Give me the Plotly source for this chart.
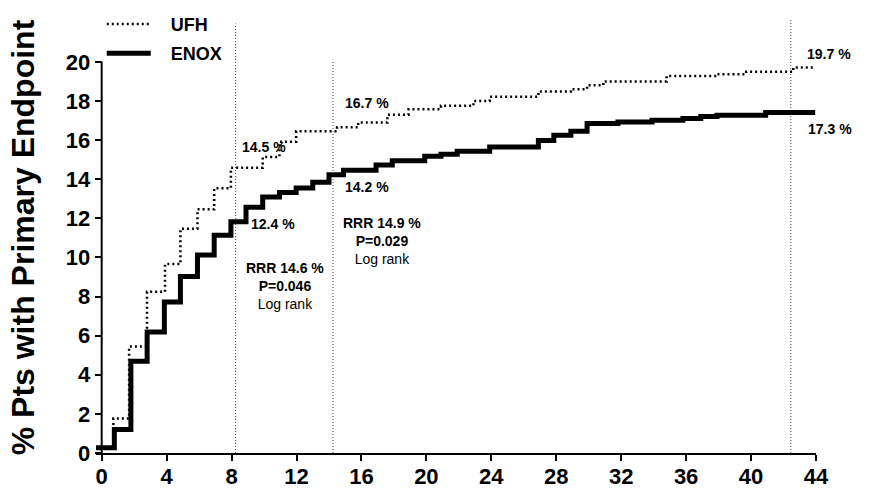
import plotly.graph_objects as go

# ---- data (days, cumulative % with primary endpoint) ----
ufh_days = [-0.35, 0.72, 1.69, 2.79, 3.9, 4.85, 5.9, 6.93, 7.96, 9.92, 10.95, 11.98,
            14.5, 15.8, 17.6, 18.9, 20.9, 22.9, 23.9, 26.9, 28.9, 29.9, 30.9, 34.8,
            37.9, 39.7, 42.6, 43.95]
ufh_pct = [0.27, 1.76, 5.44, 8.24, 9.66, 11.47, 12.46, 13.54, 14.58, 15.14, 15.92, 16.45,
           16.65, 16.9, 17.3, 17.58, 17.75, 18.0, 18.21, 18.48, 18.6, 18.8, 19.0, 19.28,
           19.37, 19.49, 19.71, 19.71]

enox_days = [-0.35, 0.78, 1.8, 2.8, 3.86, 4.85, 5.9, 6.93, 7.96, 8.89, 9.92, 10.95, 11.98,
             13.0, 14.0, 14.9, 16.9, 17.9, 19.9, 20.9, 21.9, 23.9, 26.9, 27.85, 28.9,
             29.9, 31.8, 33.9, 35.8, 36.9, 37.9, 40.9, 43.95]
enox_pct = [0.27, 1.2, 4.69, 6.19, 7.72, 9.03, 10.12, 11.14, 11.83, 12.57, 13.09, 13.32,
            13.55, 13.85, 14.23, 14.46, 14.72, 14.94, 15.17, 15.28, 15.43, 15.65, 15.98,
            16.25, 16.45, 16.85, 16.93, 17.02, 17.1, 17.2, 17.27, 17.41, 17.41]

x_ticks = [0, 4, 8, 12, 16, 20, 24, 28, 32, 36, 40, 44]
y_ticks = [0, 2, 4, 6, 8, 10, 12, 14, 16, 18, 20]

# reference day lines and their top ends
ref_days = [8.25, 14.25, 42.45]
ref_tops = [21.96, 20.1, 22.2]

# value labels: (day, pct, text)
value_labels = [
    (8.5, 15.63, "14.5 %"),
    (9.1, 11.73, "12.4 %"),
    (14.85, 17.88, "16.7 %"),
    (14.85, 13.59, "14.2 %"),
    (43.35, 20.41, "19.7 %"),
    (43.4, 16.57, "17.3 %"),
]
# statistics blocks: (day, pct, rrr, p)
stat_blocks = [
    (11.3, 8.56, "RRR 14.6 %", "P=0.046"),
    (17.26, 10.82, "RRR 14.9 %", "P=0.029"),
    (45.03, 13.97, "RRR 12.3 %", "P=0.044"),
]

FONT = "Liberation Sans, Arial, Helvetica, sans-serif"
X_MIN, X_MAX = -0.35, 44
Y_MIN, Y_MAX = 0, 22.6
NB = "\u00a0\u00a0\u00a0"

fig = go.Figure()
fig.add_trace(go.Scatter(
    x=ufh_days, y=ufh_pct, mode="lines", name=NB + "UFH", line_shape="hv",
    line=dict(color="black", width=2.5, dash="2px,3px"), legendgroup="a"))
fig.add_trace(go.Scatter(
    x=enox_days, y=enox_pct, mode="lines", name=NB + "ENOX", line_shape="hv",
    line=dict(color="black", width=5), legendgroup="b"))

for d, top in zip(ref_days, ref_tops):
    fig.add_shape(type="line", xref="x", yref="y", x0=d, x1=d, y0=0, y1=top,
                  line=dict(color="#444", width=1, dash="1px,2px"), layer="below")

# y-axis line (stops at 20)
fig.add_shape(type="line", xref="x", yref="y", x0=0, x1=0, y0=0, y1=20,
              line=dict(color="black", width=2))

for d, p, t in value_labels:
    fig.add_annotation(x=d, y=p, text="<b>" + t + "</b>", showarrow=False,
                       xanchor="left", yanchor="middle",
                       font=dict(family=FONT, size=14, color="black"))
for d, p, r, pv in stat_blocks:
    fig.add_annotation(x=d, y=p, text="<b>" + r + "</b><br><b>" + pv + "</b><br>Log rank",
                       showarrow=False, xanchor="center", yanchor="middle", align="center",
                       font=dict(family=FONT, size=14, color="black"))

fig.add_annotation(xref="paper", yref="paper", x=-0.102, y=0.487,
                   text="<b>% Pts with Primary Endpoint</b>", textangle=-90,
                   showarrow=False, xanchor="center", yanchor="middle",
                   font=dict(family=FONT, size=32, color="black"))

ypos = (0 - X_MIN) / (X_MAX - X_MIN)

fig.update_layout(
    width=873, height=488,
    margin=dict(l=96, r=57, t=11, b=35, autoexpand=False),
    paper_bgcolor="white", plot_bgcolor="white",
    showlegend=True,
    legend=dict(x=0.008, y=1.012, xanchor="left", yanchor="top",
                font=dict(family=FONT, size=18, color="black", weight="bold"),
                itemwidth=44, tracegroupgap=3, bgcolor="rgba(0,0,0,0)"),
    xaxis=dict(range=[X_MIN, X_MAX], tickvals=x_ticks, showgrid=False, zeroline=False,
               showline=True, linecolor="black", linewidth=2, automargin=False,
               ticks="outside", ticklen=6, tickwidth=2, tickcolor="black",
               ticklabelstandoff=-3,
               tickfont=dict(family=FONT, size=22, color="black", weight="bold")),
    yaxis=dict(range=[Y_MIN, Y_MAX], tickvals=y_ticks, showgrid=False, zeroline=False,
               showline=False, anchor="free", position=ypos, automargin=False,
               ticks="outside", ticklen=7, tickwidth=2, tickcolor="black",
               tickfont=dict(family=FONT, size=22, color="black", weight="bold")),
)

fig.write_html("out.html", config={"displayModeBar": False},
               post_script="document.body.style.margin='0px';document.body.style.overflow='hidden';")
